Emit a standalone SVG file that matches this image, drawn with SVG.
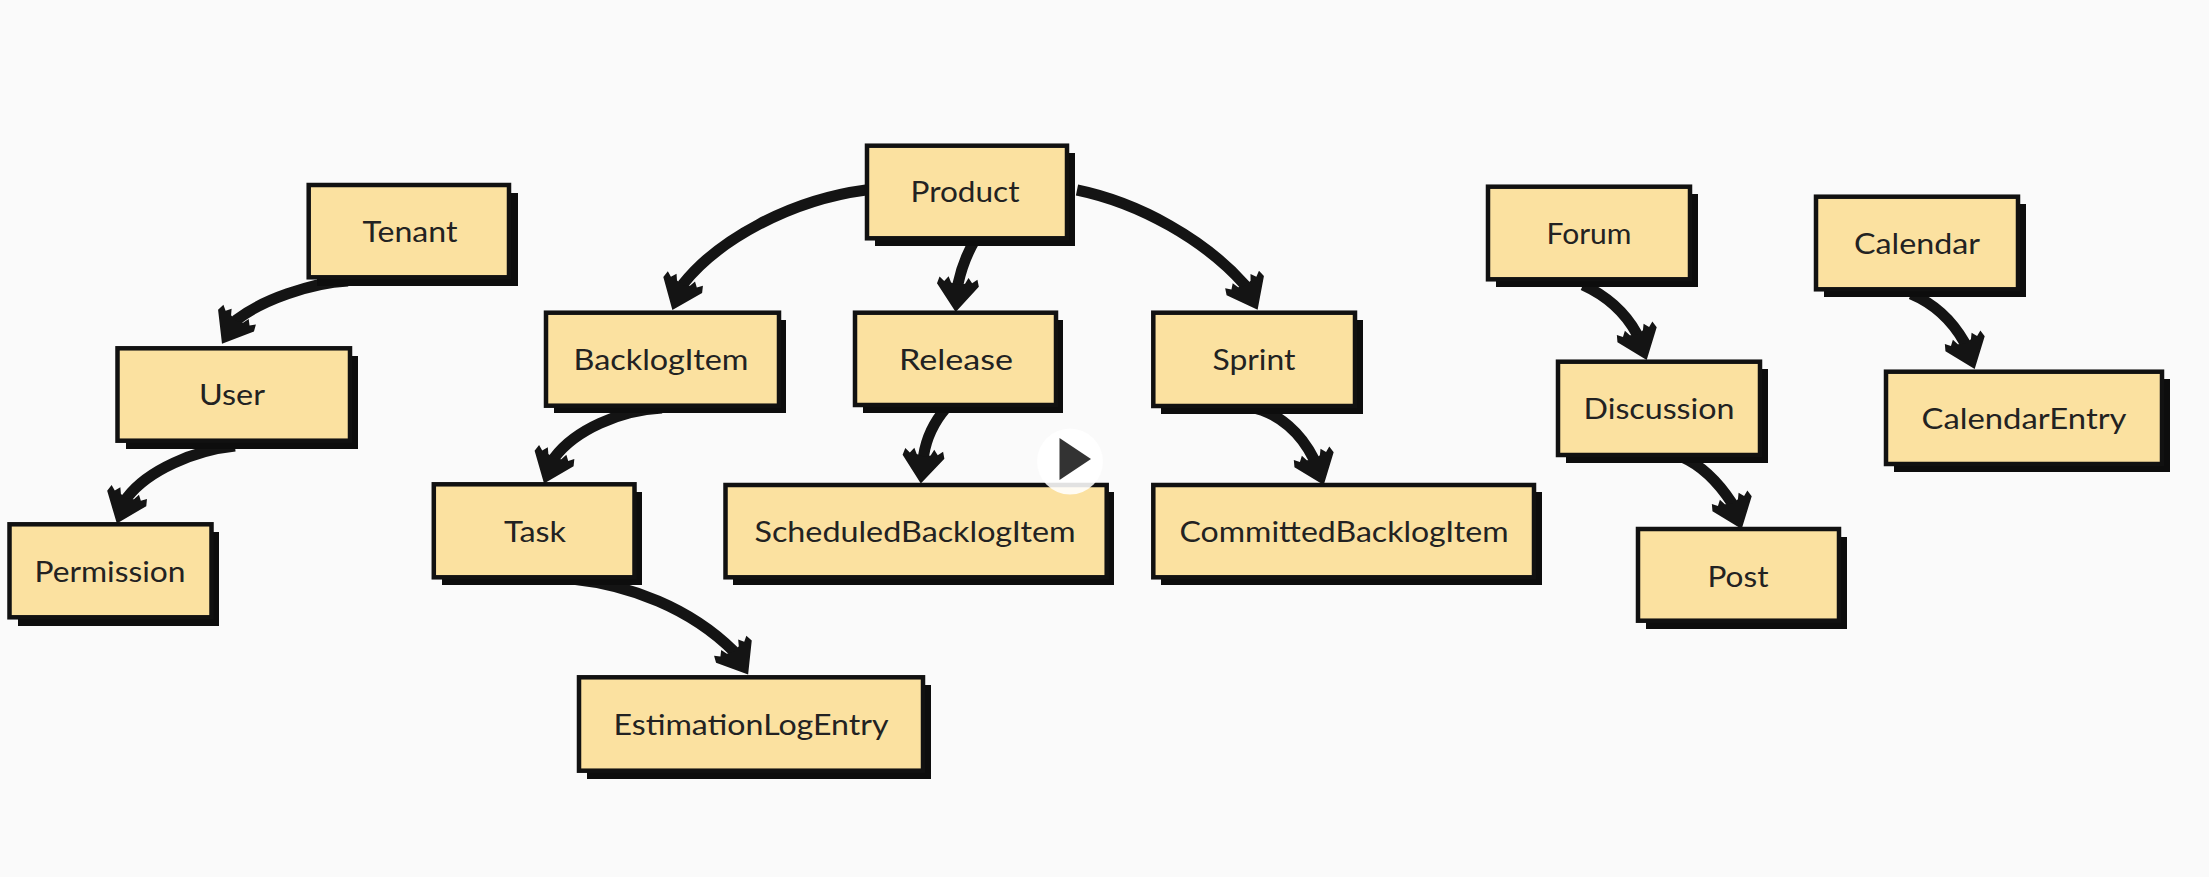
<svg xmlns="http://www.w3.org/2000/svg" width="2209" height="877" viewBox="0 0 2209 877">
<style>
.box{fill:#fbe1a0;stroke:#111;stroke-width:4.5}
.sh{fill:#0d0d0d}
.lbl{font-family:"Lato","Liberation Sans",sans-serif;font-size:28px;fill:#222;text-anchor:middle}
.c{fill:none;stroke:#141414;stroke-width:11;marker-end:url(#head)}
</style>
<defs>
<marker id="head" markerUnits="userSpaceOnUse" viewBox="0 0 40 44" refX="22" refY="22" markerWidth="40" markerHeight="44" orient="auto" overflow="visible">
<polygon fill="#141414" points="38,22 11,1 4,3 8,8 3,12 9,15 11,22 9,29 3,32 8,36 4,41 11,43"/>
</marker>
</defs>
<rect width="2209" height="877" fill="#fafafa"/>
<g id="connectors">
<path class="c" d="M348,281 C310,283 262,300 236.500,319.900 L230.300,330.100"/>
<path class="c" d="M235,446 C195,450 148,470 127.100,497.500 L122.700,508.700"/>
<path class="c" d="M866,190 C790,200 718,240 683.100,284 L678.500,295.100"/>
<path class="c" d="M975,240 C966,255 961,270 958,284 L957,296"/>
<path class="c" d="M662,408 C620,410 575,430 554.500,457.500 L550,468.700"/>
<path class="c" d="M946,408 C934,422 926,440 923.600,455.700 L922.400,467.700"/>
<path class="c" d="M1077,190 C1140,203 1205,240 1244.800,284.800 L1250.300,295.500"/>
<path class="c" d="M1249,407 C1280,412 1302,435 1313.700,458.800 L1318,470"/>
<path class="c" d="M572,579 C630,585 690,608 733.500,651 L739.700,661"/>
<path class="c" d="M1583,285 C1605,295 1625,312 1636.700,333.700 L1641,345"/>
<path class="c" d="M1911,294 C1935,304 1953,322 1964.700,342.700 L1969,354"/>
<path class="c" d="M1682,457 C1705,467 1720,485 1731.700,502.700 L1736,514"/>
</g>
<g id="tenant"><rect class="sh" x="317" y="193" width="201" height="93"/><rect class="box" x="308.7" y="185" width="200.3" height="92.3"/><text class="lbl" x="410" y="241.500" textLength="95" lengthAdjust="spacingAndGlyphs">Tenant</text></g>
<g id="user"><rect class="sh" x="126" y="356" width="232" height="93"/><rect class="box" x="117.5" y="348.3" width="232.5" height="92.4"/><text class="lbl" x="232" y="405" textLength="66" lengthAdjust="spacingAndGlyphs">User</text></g>
<g id="permission"><rect class="sh" x="18" y="532" width="201" height="94"/><rect class="box" x="9.5" y="524.3" width="202" height="93"/><text class="lbl" x="110" y="582" textLength="151" lengthAdjust="spacingAndGlyphs">Permission</text></g>
<g id="product"><rect class="sh" x="875" y="153" width="200" height="93"/><rect class="box" x="867" y="145.7" width="200" height="92.6"/><text class="lbl" x="965" y="202" textLength="109" lengthAdjust="spacingAndGlyphs">Product</text></g>
<g id="backlogitem"><rect class="sh" x="554" y="320" width="232" height="93"/><rect class="box" x="546" y="312.7" width="233" height="93"/><text class="lbl" x="661" y="370" textLength="175" lengthAdjust="spacingAndGlyphs">BacklogItem</text></g>
<g id="release"><rect class="sh" x="863" y="320" width="200" height="93"/><rect class="box" x="855" y="312.7" width="201" height="92.3"/><text class="lbl" x="956" y="370" textLength="114" lengthAdjust="spacingAndGlyphs">Release</text></g>
<g id="sprint"><rect class="sh" x="1161" y="320" width="202" height="94"/><rect class="box" x="1153.3" y="312.7" width="201.7" height="93.3"/><text class="lbl" x="1254" y="370" textLength="83" lengthAdjust="spacingAndGlyphs">Sprint</text></g>
<g id="task"><rect class="sh" x="442" y="492" width="200" height="93"/><rect class="box" x="433.8" y="484.3" width="200.7" height="93"/><text class="lbl" x="535" y="541.500" textLength="62" lengthAdjust="spacingAndGlyphs">Task</text></g>
<g id="scheduledbacklogitem"><rect class="sh" x="733" y="492" width="381" height="93"/><rect class="box" x="725.5" y="485" width="381.2" height="92.3"/><text class="lbl" x="915" y="541.500" textLength="321" lengthAdjust="spacingAndGlyphs">ScheduledBacklogItem</text></g>
<g id="committedbacklogitem"><rect class="sh" x="1161" y="492" width="381" height="93"/><rect class="box" x="1153.3" y="485" width="380.7" height="92.3"/><text class="lbl" x="1344" y="541.500" textLength="329" lengthAdjust="spacingAndGlyphs">CommittedBacklogItem</text></g>
<g id="estimationlogentry"><rect class="sh" x="587" y="685" width="344" height="94"/><rect class="box" x="579" y="677.3" width="344" height="93.4"/><text class="lbl" x="751" y="735" textLength="275" lengthAdjust="spacingAndGlyphs">EstimationLogEntry</text></g>
<g id="forum"><rect class="sh" x="1496" y="194" width="202" height="93"/><rect class="box" x="1488" y="186.7" width="202" height="92.6"/><text class="lbl" x="1589" y="244" textLength="85" lengthAdjust="spacingAndGlyphs">Forum</text></g>
<g id="discussion"><rect class="sh" x="1566" y="369" width="202" height="94"/><rect class="box" x="1558" y="361.7" width="202" height="93.3"/><text class="lbl" x="1659" y="419" textLength="151" lengthAdjust="spacingAndGlyphs">Discussion</text></g>
<g id="post"><rect class="sh" x="1646" y="537" width="201" height="92"/><rect class="box" x="1638" y="529" width="201" height="91.7"/><text class="lbl" x="1738" y="587" textLength="61" lengthAdjust="spacingAndGlyphs">Post</text></g>
<g id="calendar"><rect class="sh" x="1824" y="204" width="202" height="93"/><rect class="box" x="1816" y="196.7" width="202" height="92.6"/><text class="lbl" x="1917" y="254" textLength="126" lengthAdjust="spacingAndGlyphs">Calendar</text></g>
<g id="calendarentry"><rect class="sh" x="1894" y="379" width="276" height="93"/><rect class="box" x="1886" y="371.7" width="276" height="92.3"/><text class="lbl" x="2024" y="429" textLength="205" lengthAdjust="spacingAndGlyphs">CalendarEntry</text></g>
<g id="play"><circle cx="1070" cy="461.5" r="33" fill="#fff" fill-opacity="0.88"/><polygon points="1059.5,438 1059.5,480 1091,459" fill="#333"/></g>
</svg>
